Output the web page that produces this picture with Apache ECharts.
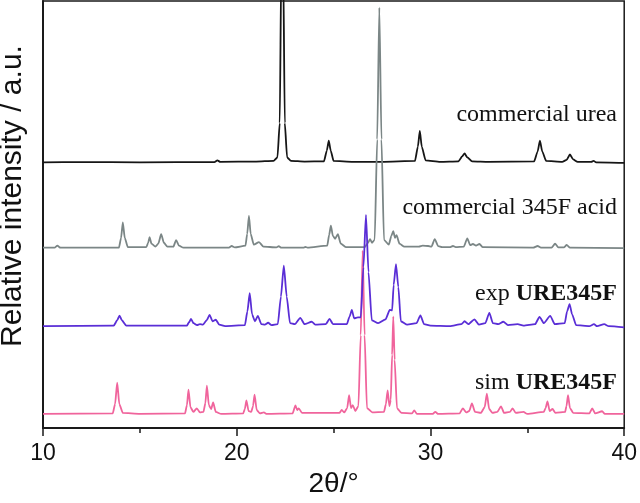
<!DOCTYPE html>
<html>
<head>
<meta charset="utf-8">
<script src="https://cdn.jsdelivr.net/npm/echarts@6/dist/echarts.min.js"></script>
<style>
  html, body { margin: 0; padding: 0; background: #fff; }
  #chart { width: 640px; height: 503px; }
</style>
</head>
<body>
<div id="chart"></div>
<script>
// 2theta / intensity pairs (intensity above each trace's own baseline)
const urea = [[10,0],[12,0.3],[15,0],[18.85,0.3],[19.0,2],[19.15,0.5],[21.0,0.8],[21.9,1.5],[22.1,5],[22.22,40],[22.3,200],[22.35,260],[22.4,200],[22.48,40],[22.6,5],[22.8,1.5],[23.5,0.8],[24.5,1],[24.65,12],[24.75,22],[24.85,12],[25.0,1.5],[26,0.5],[27.5,0.5],[29.2,1.5],[29.35,16],[29.45,32],[29.55,16],[29.75,2],[30.5,0.5],[31.45,1],[31.63,6],[31.76,9],[31.9,5],[32.15,1],[33,0.5],[35.35,1],[35.53,11],[35.65,22],[35.77,11],[35.97,1.5],[36.8,0.5],[37.03,2.5],[37.2,8],[37.36,3],[37.6,0.5],[38.3,0.5],[38.42,1.5],[38.55,0],[40,-0.5]]

const acid345F = [[10,0],[10.6,0],[10.74,2],[10.9,0],[13.92,0],[14.03,10],[14.12,25.7],[14.22,10],[14.38,0.5],[15.33,0.5],[15.43,5],[15.5,10.7],[15.6,4],[15.8,1],[15.95,4],[16.1,13.7],[16.24,5],[16.42,1],[16.73,1],[16.87,7.7],[17.02,2],[17.25,0],[19.6,0],[19.74,1.7],[19.9,0.3],[20.45,2],[20.54,14],[20.63,32.4],[20.72,14],[20.88,3],[21.15,5.7],[21.38,1],[22.05,0.3],[22.17,1.5],[22.3,0],[23.45,0],[23.54,0.8],[23.65,0],[24.67,2],[24.77,13],[24.86,22.4],[24.96,12],[25.08,9],[25.22,13.7],[25.37,4],[25.65,0.5],[26.6,0.5],[26.78,5],[26.88,8.7],[26.98,5],[27.12,8],[27.25,110],[27.36,244],[27.47,110],[27.6,8],[27.85,3],[27.98,12],[28.08,16.7],[28.17,10],[28.25,12.7],[28.4,4],[28.65,1],[29.4,1],[29.6,2],[29.88,1.7],[30.05,1],[30.22,8.7],[30.4,1.5],[30.6,0.5],[31.0,0.5],[31.16,1.7],[31.3,0.5],[31.72,1],[31.9,9.4],[32.05,2.5],[32.19,3.7],[32.35,2],[32.53,3.7],[32.7,0.5],[35.3,0],[35.53,1.7],[35.7,0],[36.25,0],[36.43,4],[36.6,0.3],[36.9,0.3],[37.03,2.7],[37.2,0],[40,-0.5]]

const expURE = [[10,0],[13.65,0.5],[13.83,6],[13.95,10.8],[14.07,6],[14.3,0.5],[17.42,0.5],[17.54,4],[17.64,7.5],[17.77,3],[17.95,1],[18.1,2],[18.25,1.5],[18.45,6],[18.6,11.5],[18.75,5],[18.92,6.5],[19.1,1.5],[19.4,0],[20.42,1],[20.55,15],[20.67,33.5],[20.79,12],[20.94,5],[21.09,10.5],[21.27,2],[21.45,1.5],[21.62,3.5],[21.8,1],[22.12,2],[22.28,30],[22.43,61.5],[22.58,30],[22.75,3],[23.0,2],[23.28,8.5],[23.5,2],[23.87,4.5],[24.05,1.5],[24.6,2],[24.79,7.5],[24.97,2],[25.68,2],[25.83,10],[25.94,16.5],[26.06,8],[26.25,9],[26.4,9],[26.54,60],[26.67,113],[26.8,55],[26.97,6],[27.3,3],[27.68,7],[27.9,16.5],[28.02,16],[28.1,42],[28.22,63],[28.34,40],[28.47,5],[28.8,1.5],[29.28,3],[29.48,11],[29.67,2],[30,0.5],[31.0,0],[31.6,2],[31.76,5],[31.95,2],[32.27,7],[32.5,1.5],[32.83,3],[33.04,13.5],[33.22,3],[33.5,2],[33.76,4.5],[34.0,1],[34.5,2],[34.8,0.5],[35.4,2],[35.63,9.5],[35.85,3],[36.18,10.5],[36.42,2],[36.93,3],[37.05,15],[37.18,22.5],[37.31,12],[37.52,1],[38.2,0],[38.44,2],[38.6,0],[38.97,2],[39.2,0],[40,-1.2]]

const simURE = [[10,0],[13.6,0.5],[13.72,10],[13.83,31.7],[13.94,10],[14.12,1],[15.0,0],[17.33,0.5],[17.43,9],[17.51,24.7],[17.61,7],[17.76,2],[17.94,5.7],[18.1,1.5],[18.28,2],[18.38,11],[18.46,28.7],[18.56,9],[18.68,5],[18.78,11.7],[18.92,2],[19.2,0],[20.33,0.5],[20.42,5],[20.5,13.7],[20.61,3],[20.75,2],[20.84,8],[20.92,19.7],[21.03,4],[21.2,0.5],[21.4,1.5],[21.55,0],[22.88,0.5],[23.03,8.7],[23.12,4],[23.2,5.7],[23.37,1],[25.3,1],[25.42,4],[25.55,1.5],[25.7,6],[25.8,19],[25.9,6],[25.99,9],[26.12,3],[26.28,8],[26.4,80],[26.5,166],[26.6,80],[26.72,6],[27.0,1.5],[27.6,2],[27.7,10],[27.79,24],[27.88,8],[27.95,14],[28.02,60],[28.08,99],[28.15,55],[28.27,6],[28.5,1],[29.05,0.5],[29.16,3.7],[29.3,0],[30.1,0],[30.25,2],[30.4,0],[31.5,0.5],[31.67,5.7],[31.85,1.5],[32.0,3],[32.14,10.7],[32.3,2],[32.6,1],[32.8,7],[32.91,20.7],[33.03,5],[33.2,1],[33.45,2],[33.64,7.7],[33.8,1],[34.1,2],[34.24,5.7],[34.4,1],[34.8,2],[35.0,0],[35.85,2],[35.94,6],[36.04,12.7],[36.15,3],[36.3,5],[36.45,1],[36.95,2],[37.02,8],[37.1,19],[37.2,6],[37.37,1],[38.2,0.5],[38.35,5.7],[38.5,0.5],[38.86,2.7],[39.0,0],[40,0]]

// vertical stacking offsets, one per trace
const traceNames = ['commercial urea', 'commercial 345F acid', 'sim URE345F', 'exp URE345F']
const traceData = [urea, acid345F, simURE, expURE]
const traceOffsets = [270, 183.3, 14.3, 103.5]
const traceColors = ['#161616', '#7b8686', '#f0649c', '#5a2ed6']

const xTicks = [10, 20, 30, 40]

const chart = echarts.init(document.getElementById('chart'))

const shift = (arr, off) => arr.map(p => [p[0], p[1] + off])

const option = {
  animation: false,
  backgroundColor: '#fff',
  grid: {
    left: 43,
    right: 13,
    top: 1,
    bottom: 68,
    show: true,
    borderColor: '#1a1a1a',
    borderWidth: 1.5
  },
  xAxis: {
    type: 'value',
    min: xTicks[0],
    max: xTicks[xTicks.length - 1],
    interval: 10,
    name: '2θ/°',
    nameLocation: 'middle',
    nameGap: 42,
    nameTextStyle: { fontFamily: 'Liberation Sans', fontSize: 28, color: '#111' },
    axisLine: { lineStyle: { color: '#1a1a1a', width: 2 } },
    axisTick: { show: true, inside: false, length: 8, lineStyle: { color: '#1a1a1a', width: 1.5 } },
    minorTick: { show: true, splitNumber: 2, length: 5, lineStyle: { color: '#1a1a1a', width: 1.5 } },
    axisLabel: { fontFamily: 'Liberation Sans', fontSize: 23, color: '#111', margin: 14 },
    splitLine: { show: false }
  },
  yAxis: {
    type: 'value',
    min: 0,
    max: 434,
    axisLine: { show: true, lineStyle: { color: '#1a1a1a', width: 2 } },
    axisTick: { show: false },
    axisLabel: { show: false },
    splitLine: { show: false }
  },
  graphic: [
    {
      type: 'text',
      x: 13,
      y: 196,
      rotation: Math.PI / 2,
      style: {
        text: 'Relative intensity / a.u.',
        fontFamily: 'Liberation Sans',
        fontSize: 30,
        fill: '#111',
        textAlign: 'center',
        textVerticalAlign: 'middle'
      }
    },
    {
      type: 'text', right: 23, top: 103,
      style: { text: 'commercial urea', fontFamily: 'Liberation Serif', fontSize: 24, fill: '#111' }
    },
    {
      type: 'text', right: 23, top: 196,
      style: { text: 'commercial 345F acid', fontFamily: 'Liberation Serif', fontSize: 24, fill: '#111' }
    },
    {
      type: 'text', right: 23, top: 282,
      style: {
        text: 'exp {b|URE345F}',
        fontFamily: 'Liberation Serif', fontSize: 24, fill: '#111',
        rich: { b: { fontFamily: 'Liberation Serif', fontSize: 24, fontWeight: 'bold', fill: '#111' } }
      }
    },
    {
      type: 'text', right: 23, top: 371,
      style: {
        text: 'sim {b|URE345F}',
        fontFamily: 'Liberation Serif', fontSize: 24, fill: '#111',
        rich: { b: { fontFamily: 'Liberation Serif', fontSize: 24, fontWeight: 'bold', fill: '#111' } }
      }
    }
  ],
  series: traceData.map((d, i) => ({
    name: traceNames[i],
    type: 'line',
    data: shift(d, traceOffsets[i]),
    showSymbol: false,
    clip: true,
    smooth: 0.2,
    smoothMonotone: 'x',
    lineStyle: { color: traceColors[i], width: 1.8 },
    z: 2 + i
  }))
}

chart.setOption(option)
</script>
</body>
</html>
